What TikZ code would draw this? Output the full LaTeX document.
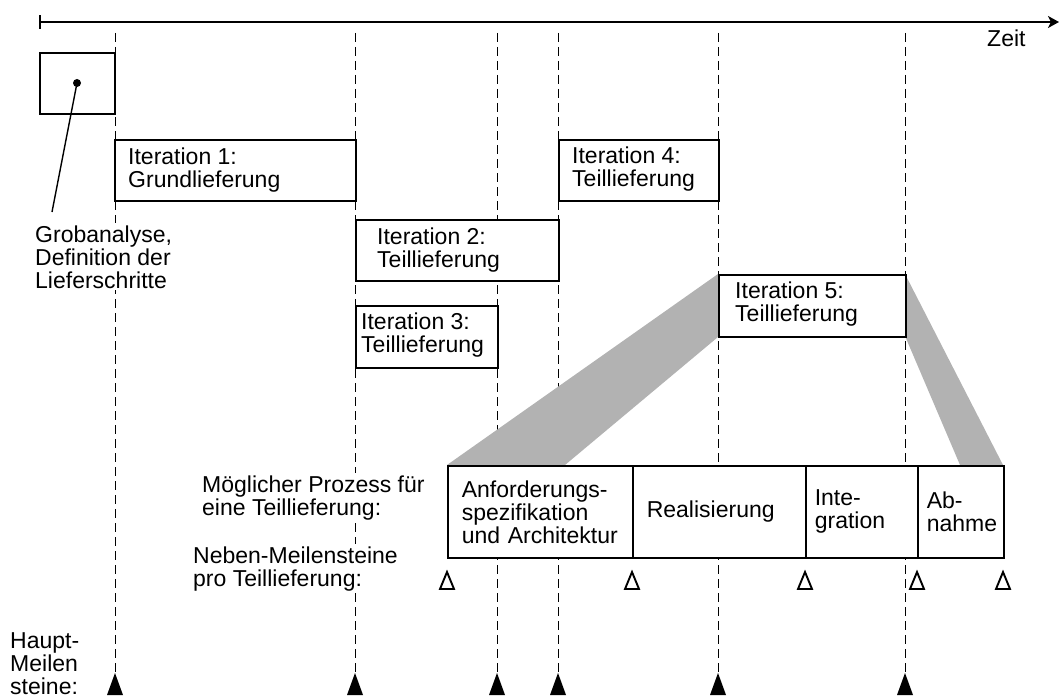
\documentclass[tikz,border=0pt]{standalone}
\usepackage{fontspec}
\setmainfont{Liberation Sans}
\usetikzlibrary{arrows.meta}
\begin{document}
\begin{tikzpicture}[x=1pt,y=-1pt,
  every node/.style={font=\fontsize{23}{23}\selectfont},
  txt/.style={inner sep=0pt, anchor=base west, align=left},
  wtxt/.style={anchor=base west, align=left, fill=white, inner sep=2pt},
  box/.style={draw, line width=1.6pt, fill=white, anchor=north west, inner sep=0pt},
  cell/.style={draw, line width=1.6pt, fill=white, anchor=north west, inner ysep=0pt, minimum height=92pt, align=left},
  guide/.style={line width=0.9pt, dash pattern=on 9pt off 5pt},
  band/.style={fill=black!30, draw=none},
  hauptms/.style={fill=black},
  nebenms/.style={draw=black, line width=1.9pt, line join=miter}]
\useasboundingbox (0,0) rectangle (1059,698);

% time axis
\coordinate (a0) at (39,22);
\coordinate (a1) at (1059,22);
\draw[line width=1.6pt, {Bar[width=14pt]}-{Stealth[length=11pt,width=12pt,inset=3pt]}] (a0) -- (a1);
\node[txt] (zeit) at (987,47) {Zeit};

% guide lines
\foreach \x in {115,355,497,558,718,905}
  \draw[guide] (\x,33) -- (\x,672);

% grey bands
\coordinate (b1a) at (447,465);
\coordinate (b1b) at (565,465);
\coordinate (b1c) at (718,337);
\coordinate (b1d) at (718,274);
\fill[band] (b1a) -- (b1b) -- (b1c) -- (b1d) -- cycle;
\coordinate (b2a) at (905,274);
\coordinate (b2b) at (1003,465);
\coordinate (b2c) at (960,465);
\coordinate (b2d) at (905,336);
\fill[band] (b2a) -- (b2b) -- (b2c) -- (b2d) -- cycle;

% Grobanalyse box
\node[box, minimum width=75pt, minimum height=61pt] (g0) at (39,52) {};
\node[circle, fill=black, inner sep=0pt, minimum size=8pt] (gdot) at (77,83) {};
\coordinate (gend) at (52,212);
\draw[line width=1.4pt] (gdot.center) -- (gend);
\node[wtxt] (gtxt) at (33,288) {Grobanalyse,\\Definition der\\Lieferschritte};

% iterations
\node[box, minimum width=241pt, minimum height=61pt] (it1) at (114,139) {};
\node[txt] (it1t) at (128,187) {Iteration 1:\\Grundlieferung};
\node[box, minimum width=203pt, minimum height=61pt] (it2) at (355,219) {};
\node[txt] (it2t) at (377,267) {Iteration 2:\\Teillieferung};
\node[box, minimum width=142pt, minimum height=62pt] (it3) at (355,305) {};
\node[txt] (it3t) at (361,352) {Iteration 3:\\Teillieferung};
\node[box, minimum width=160pt, minimum height=61pt] (it4) at (558,139) {};
\node[txt] (it4t) at (572,186) {Iteration 4:\\Teillieferung};
\node[box, minimum width=187pt, minimum height=62pt] (it5) at (718,274) {};
\node[txt] (it5t) at (735,321) {Iteration 5:\\Teillieferung};

% process
\node[cell, inner xsep=14pt, text width=157pt] (c1) at (447,465) {Anforderungs-\\spezifikation\\und~Architektur};
\node[cell, inner xsep=14pt, text width=145pt] (c2) at (632,465) {Realisierung};
\node[cell, inner xsep=9pt, text width=94pt] (c3) at (805,465) {Inte-\\gration};
\node[cell, inner xsep=9pt, text width=68pt] (c4) at (917,465) {Ab-\\nahme};

% left labels
\node[wtxt] (proc) at (200,515) {Möglicher Prozess für\\eine Teillieferung:};
\node[wtxt] (neben) at (191,586) {Neben-Meilensteine\\pro Teillieferung:};
\node[txt] (haupt) at (10,694) {Haupt-\\Meilen\\steine:};

% milestones
\foreach \x in {447,632,805,917,1003}
  \draw[nebenms] (\x,572) -- (\x+7,589) -- (\x-7,589) -- cycle;
\foreach \x in {115,355,497,558,718,905}
  \fill[hauptms] (\x,673) -- (\x+8,695) -- (\x-8,695) -- cycle;
\end{tikzpicture}
\end{document}
